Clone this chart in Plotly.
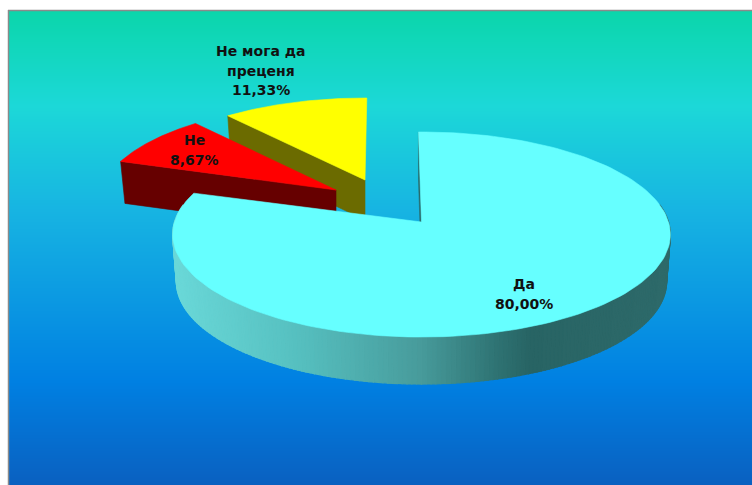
import math
import plotly.graph_objects as go

# ---- data ----
categories = ["Да", "Не", "Не мога да преценя"]
values = [80.00, 8.67, 11.33]
label_lines = [["Да"], ["Не"], ["Не мога да", "преценя"]]

# ---- style / geometry ----
W, H = 752, 485
top_colors = ["#66ffff", "#ff0000", "#ffff00"]
wall_colors = ["#2a6a6a", "#660000", "#6b6b00"]
K = 0.122                 # perspective strength
START = -0.8              # first slice angle, degrees clockwise from the top
twist = [0.0, 0.8, 1.3]   # small per-slice rotation from the perspective of the exploded slices
apex = [(421.5, 222), (336, 190), (365, 180)]
radii = [(247, 101), (235, 96), (232, 92)]
depth = [47, 42, 40]
bottom_scale = [0.985, 0.98, 0.98]
label_pos = [(524, 284), (194, 140), (261, 51)]
bg_stops = [(0.0, "#0bd6ab"), (0.2, "#1cd8d8"), (0.42, "#17b4e2"),
            (0.78, "#0080e2"), (1.0, "#0a60c0")]
wall_stops = [(178, (106, 216, 216)), (300, (86, 192, 192)), (420, (72, 156, 156)),
              (500, (46, 114, 114)), (530, (40, 100, 100)), (668, (46, 106, 106))]


def project(i, deg, dy=0.0):
    t = math.radians(deg)
    d = 1 + K * math.cos(t)
    R, S = radii[i]
    if dy:
        R *= bottom_scale[i]
    return apex[i][0] + R * math.sin(t) / d, apex[i][1] + dy - S * math.cos(t) / d


def arc(i, a, b, dy=0.0, n=80):
    return [project(i, a + (b - a) * j / n, dy) for j in range(n + 1)]


def poly(fig, pts, color, lw=0.6):
    xs = [p[0] for p in pts] + [pts[0][0]]
    ys = [p[1] for p in pts] + [pts[0][1]]
    fig.add_trace(go.Scatter(x=xs, y=ys, mode="lines", fill="toself", fillcolor=color,
                             line=dict(color=color, width=lw), hoverinfo="skip",
                             showlegend=False))


def wall_color(x):
    for (x0, c0), (x1, c1) in zip(wall_stops, wall_stops[1:]):
        if x <= x1:
            f = max(0.0, (x - x0) / (x1 - x0))
            return "rgb(%d,%d,%d)" % tuple(round(a + (b - a) * f) for a, b in zip(c0, c1))
    return "rgb(%d,%d,%d)" % wall_stops[-1][1]


# slice angle spans
spans = []
a = START
for i, v in enumerate(values):
    spans.append((a + twist[i], a + v * 3.6 + twist[i]))
    a += v * 3.6

fig = go.Figure()

# background gradient
edges_y = list(range(11, H + 1))
fig.add_trace(go.Heatmap(x=[9, W], y=edges_y,
                         z=[[(y - 11) / (H - 11)] for y in edges_y[:-1]],
                         colorscale=bg_stops, zmin=0, zmax=1, showscale=False,
                         hoverinfo="skip"))

# exploded slices, far one first: only the near radial wall can be seen
for i in (2, 1):
    a, b = spans[i]
    dy = depth[i]
    outer_top = arc(i, a, b)
    outer_bot = arc(i, a, b, dy)
    ax, ay = apex[i]
    poly(fig, [(ax, ay), outer_top[0], outer_bot[0], (ax, ay + dy)], wall_colors[i])
    poly(fig, [(ax, ay)] + outer_top, top_colors[i])

# main slice: thin inner wall, curved outer wall, top face
a, b = spans[0]
dy = depth[0]
ax, ay = apex[0]
poly(fig, [(ax, ay), project(0, a), project(0, a, dy), (ax, ay + dy)], wall_colors[0])
seg = 1.0
deg = 80.0
while deg < 280.0:
    p = [project(0, deg, 0), project(0, deg + seg, 0),
         project(0, deg + seg, dy), project(0, deg, dy)]
    poly(fig, p, wall_color(p[3][0]), lw=1.2)
    deg += seg
poly(fig, [(ax, ay)] + arc(0, a, b, n=160), top_colors[0])

# labels
annotations = []
for i, lines in enumerate(label_lines):
    text_lines = lines + [f"{values[i]:.2f}%".replace(".", ",")]
    for j, line in enumerate(text_lines):
        annotations.append(dict(x=label_pos[i][0], y=label_pos[i][1] + j * 19.5, text=line,
                                xref="x", yref="y", showarrow=False,
                                xanchor="center", yanchor="middle",
                                font=dict(family="DejaVu Sans", size=14, color="#111111",
                                          weight="bold")))

fig.update_layout(
    width=W, height=H, autosize=False, margin=dict(l=0, r=0, t=0, b=0),
    paper_bgcolor="white", plot_bgcolor="white", hovermode=False,
    xaxis=dict(range=[0, W], visible=False, fixedrange=True),
    yaxis=dict(range=[H, 0], visible=False, fixedrange=True),
    annotations=annotations,
    shapes=[dict(type="line", xref="x", yref="y", x0=8.5, x1=8.5, y0=10, y1=H,
                 line=dict(color="#8a8a8a", width=1.5)),
            dict(type="line", xref="x", yref="y", x0=8, x1=W, y0=10.5, y1=10.5,
                 line=dict(color="#8a8a8a", width=1.5))],
)

fig.write_html("out.html", config={"displayModeBar": False},
               post_script="document.body.style.margin='0';")
